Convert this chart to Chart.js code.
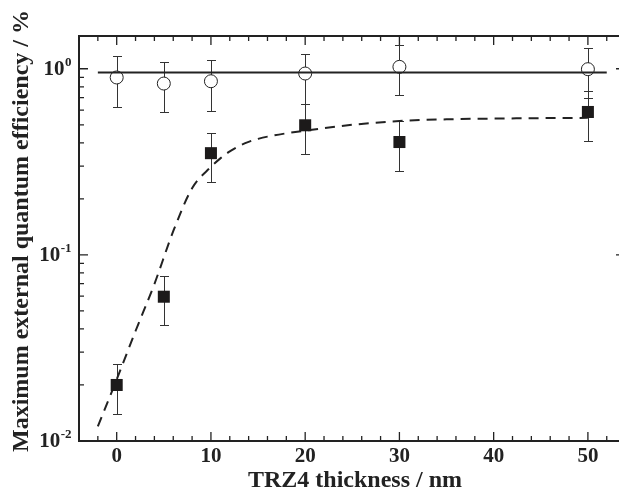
<!DOCTYPE html>
<html><head><meta charset="utf-8">
<script src="https://cdn.jsdelivr.net/npm/chart.js@4/dist/chart.umd.min.js"></script>
<style>html,body{margin:0;padding:0;background:#fff;}#wrap{width:619px;height:501px;position:relative;}</style>
</head><body><div id="wrap"><canvas id="c" width="619" height="501"></canvas></div>
<script>
const thickness = [0, 5, 10, 20, 30, 50];
const eqeCircle = [0.898, 0.833, 0.857, 0.943, 1.024, 0.995];
const eqeCircleLow = [0.627, 0.584, 0.596, 0.65, 0.721, 0.697];
const eqeCircleHigh = [1.169, 1.081, 1.108, 1.198, 1.34, 1.30];
const eqeSquare = [0.020, 0.0596, 0.352, 0.497, 0.404, 0.586];
const eqeSquareLow = [0.014, 0.0418, 0.246, 0.347, 0.283, 0.409];
const eqeSquareHigh = [0.026, 0.0774, 0.454, 0.65, 0.524, 0.757];
const fitX = [-2, 0, 2, 4, 6, 8, 10, 11, 12, 13, 14, 15, 16, 18, 20, 25, 30, 35, 40, 45, 50];
const fitY = [0.012, 0.0214, 0.039, 0.0697, 0.134, 0.228, 0.297, 0.33, 0.36, 0.385, 0.405, 0.42, 0.432, 0.45, 0.465, 0.50, 0.524, 0.535, 0.54, 0.543, 0.545];
const flatX = [-2, 52];
const flatY = [0.955, 0.955];
const xTickLabels = [0, 10, 20, 30, 40, 50];
const yTickValues = [1, 0.1, 0.01];
const yTickExps = ['0', '-1', '-2'];
const xTitle = 'TRZ4 thickness / nm';
const yTitle = 'Maximum external quantum efficiency / %';

const INK = '#222';
const SERIF = "'Liberation Serif', 'Times New Roman', serif";

const overlay = {
  id: 'overlay',
  beforeDatasetsDraw(chart) {
    const {ctx, scales: {x, y}} = chart;
    ctx.save();
    ctx.strokeStyle = '#333';
    ctx.lineWidth = 1;
    const cap = 4.5;
    const bar = (xv, lo, hi) => {
      const px = Math.round(x.getPixelForValue(xv)) + 0.5;
      const p1 = Math.round(y.getPixelForValue(lo)) + 0.5;
      const p2 = Math.round(y.getPixelForValue(hi)) + 0.5;
      ctx.beginPath();
      ctx.moveTo(px, p1); ctx.lineTo(px, p2);
      ctx.moveTo(px - cap, p1); ctx.lineTo(px + cap, p1);
      ctx.moveTo(px - cap, p2); ctx.lineTo(px + cap, p2);
      ctx.stroke();
    };
    thickness.forEach((t, i) => {
      bar(t, eqeCircleLow[i], eqeCircleHigh[i]);
      bar(t, eqeSquareLow[i], eqeSquareHigh[i]);
    });
    ctx.restore();
  },
  afterDraw(chart) {
    const {ctx, chartArea: a, scales: {x, y}} = chart;
    ctx.save();
    ctx.strokeStyle = INK;
    ctx.lineWidth = 2;
    ctx.beginPath();
    ctx.moveTo(a.left, a.top); ctx.lineTo(a.right + 5, a.top);
    ctx.moveTo(a.left, a.top - 1); ctx.lineTo(a.left, a.bottom + 1);
    ctx.moveTo(a.left - 1, a.bottom); ctx.lineTo(a.right + 5, a.bottom);
    ctx.stroke();
    ctx.lineWidth = 1.3;
    ctx.beginPath();
    for (let v = -4; v <= 52; v += 2) {
      const px = x.getPixelForValue(v);
      const len = (v % 10 === 0) ? 9 : 5;
      ctx.moveTo(px, a.bottom); ctx.lineTo(px, a.bottom - len);
      ctx.moveTo(px, a.top); ctx.lineTo(px, a.top + len);
    }
    const rightAxis = a.right + 6;
    for (let d = -2; d <= 0; d++) {
      for (let m = 1; m <= 9; m++) {
        const v = m * Math.pow(10, d);
        if (v > y.max) break;
        const py = y.getPixelForValue(v);
        const len = m === 1 ? 9 : 5;
        ctx.moveTo(a.left, py); ctx.lineTo(a.left + len, py);
        ctx.moveTo(rightAxis, py); ctx.lineTo(rightAxis - len, py);
      }
    }
    ctx.stroke();
    ctx.fillStyle = INK;
    ctx.textBaseline = 'middle';
    ctx.textAlign = 'left';
    yTickValues.forEach((v, i) => {
      const py = y.getPixelForValue(v);
      ctx.font = 'bold 21px ' + SERIF;
      const w10 = ctx.measureText('10').width;
      ctx.font = 'bold 13px ' + SERIF;
      const we = ctx.measureText(yTickExps[i]).width;
      const x0 = a.left - 8 - w10 - we;
      ctx.font = 'bold 21px ' + SERIF;
      ctx.fillText('10', x0, py + 1);
      ctx.font = 'bold 13px ' + SERIF;
      ctx.fillText(yTickExps[i], x0 + w10 + 0.5, py - 6);
    });
    ctx.font = 'bold 24px ' + SERIF;
    ctx.textAlign = 'center';
    ctx.fillText(xTitle, 355, 481);
    ctx.translate(22, 231);
    ctx.rotate(-Math.PI / 2);
    ctx.fillText(yTitle, 0, 0);
    ctx.restore();
  }
};

new Chart(document.getElementById('c'), {
  type: 'scatter',
  data: {
    datasets: [
      {
        type: 'line', order: 0,
        data: flatX.map((v, i) => ({x: v, y: flatY[i]})),
        borderColor: INK, borderWidth: 2, pointRadius: 0, fill: false
      },
      {
        order: 1,
        data: thickness.map((v, i) => ({x: v, y: eqeCircle[i]})),
        pointStyle: 'circle', pointRadius: 6.5, pointBackgroundColor: '#fff',
        pointBorderColor: INK, pointBorderWidth: 1, showLine: false
      },
      {
        order: 2,
        data: thickness.map((v, i) => ({x: v, y: eqeSquare[i]})),
        pointStyle: 'rect', pointRadius: 8.5, pointBackgroundColor: '#1c1a1a',
        pointBorderColor: '#1c1a1a', pointBorderWidth: 0, showLine: false
      },
      {
        type: 'line', order: 3,
        data: fitX.map((v, i) => ({x: v, y: fitY[i]})),
        borderColor: INK, borderWidth: 2, borderDash: [10, 7], pointRadius: 0,
        cubicInterpolationMode: 'monotone', fill: false
      }
    ]
  },
  options: {
    responsive: false,
    animation: false,
    events: [],
    layout: {autoPadding: false, padding: {top: 36, left: 0, right: 0, bottom: 0}},
    plugins: {legend: {display: false}, tooltip: {enabled: false}},
    scales: {
      x: {
        type: 'linear', min: -4, max: 53.3,
        grid: {display: false, drawTicks: false},
        border: {display: false},
        afterBuildTicks: s => { s.ticks = xTickLabels.map(v => ({value: v})); },
        afterFit: s => { s.height = 60; s.paddingRight = 0; s.paddingLeft = 0; },
        ticks: {font: {family: SERIF, size: 21, weight: 'bold'}, color: INK, padding: 3, maxRotation: 0}
      },
      y: {
        type: 'logarithmic', min: 0.01, max: 1.5,
        grid: {display: false, drawTicks: false},
        border: {display: false},
        afterFit: s => { s.width = 79; s.paddingTop = 0; s.paddingBottom = 0; },
        ticks: {display: false}
      }
    }
  },
  plugins: [overlay]
});
</script></body></html>
